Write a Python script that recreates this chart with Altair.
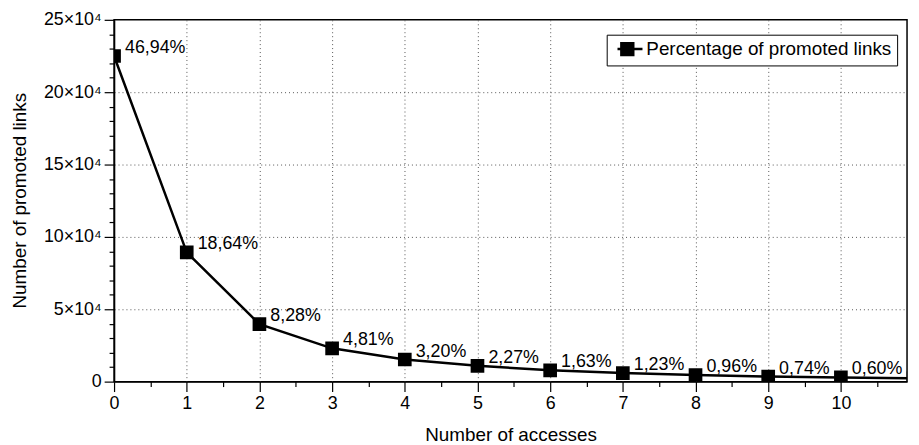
import altair as alt
import pandas as pd

accesses = [0, 1, 2, 3, 4, 5, 6, 7, 8, 9, 10, 11]
promoted = [225000, 89300, 39700, 23000, 15300, 10900, 7800, 5900, 4600, 3500, 2900, 2300]
percent_labels = ["46,94%", "18,64%", "8,28%", "4,81%", "3,20%", "2,27%",
                  "1,63%", "1,23%", "0,96%", "0,74%", "0,60%", ""]
series_name = "Percentage of promoted links"

df = pd.DataFrame({
    "x": accesses,
    "y": promoted,
    "label": percent_labels,
    "series": [series_name] * len(accesses),
})

FONT = "Liberation Sans"

x_ticks = [i * 0.5 for i in range(22)]
y_ticks = [i * 10000 for i in range(26)]

x_scale = alt.Scale(domain=[0, 10.91], nice=False, zero=False)
y_scale = alt.Scale(domain=[0, 250000], nice=False)

x_axis = alt.Axis(
    values=x_ticks,
    title="Number of accesses",
    labelExpr="datum.value % 1 === 0 ? format(datum.value, 'd') : ''",
    labelFlush=False,
    labelOverlap=False,
    tickSize={"condition": {"test": "datum.value % 1 === 0", "value": 10}, "value": 5},
    gridOpacity={"condition": {"test": "datum.value % 1 === 0 && datum.value > 0", "value": 1}, "value": 0},
    gridDash=[1, 3],
    gridColor="#555555",
    gridWidth=1,
    domainColor="black",
    domainWidth=1.5,
    tickColor="black",
    tickWidth=1.2,
    labelFont=FONT,
    labelFontSize=18,
    labelColor="black",
    labelPadding=3,
    titleFont=FONT,
    titleFontSize=19,
    titleFontWeight="normal",
    titleColor="black",
    titleBaseline="alphabetic",
    titleY=59,
)

y_axis = alt.Axis(
    values=y_ticks,
    title="Number of promoted links",
    labelExpr="datum.value === 0 ? '0' : (datum.value % 50000 === 0 ? format(datum.value / 10000, 'd') + '×10⁴' : '')",
    labelFlush=False,
    labelOverlap=False,
    tickSize={"condition": {"test": "datum.value % 50000 === 0", "value": 10}, "value": 5},
    gridOpacity={"condition": {"test": "datum.value % 50000 === 0 && datum.value > 0 && datum.value < 250000", "value": 1}, "value": 0},
    gridDash=[1, 3],
    gridColor="#555555",
    gridWidth=1,
    domainColor="black",
    domainWidth=1.5,
    tickColor="black",
    tickWidth=1.2,
    labelFont=FONT,
    labelFontSize=18,
    labelColor="black",
    labelPadding=3,
    titleFont=FONT,
    titleFontSize=19,
    titleFontWeight="normal",
    titleColor="black",
    titleAngle=270,
    titleAlign="center",
    titleBaseline="middle",
    titleX=-95,
    titleY=182,
)

x_enc = alt.X("x:Q", scale=x_scale, axis=x_axis)
y_enc = alt.Y("y:Q", scale=y_scale, axis=y_axis)

base = alt.Chart(df)

color = alt.Color(
    "series:N",
    scale=alt.Scale(range=["black"]),
    legend=alt.Legend(
        title=None,
        orient="none",
        legendX=497,
        legendY=15,
        strokeColor="black",
        fillColor="white",
        padding=5,
        labelFont=FONT,
        labelFontSize=19,
        labelColor="black",
        labelLimit=0,
        symbolType="M-0.6,0H3.6M0.05,-1H2.05V1H0.05Z",
        symbolSize=144,
        symbolStrokeWidth=2.5,
        symbolStrokeColor="black",
        symbolFillColor="black",
        labelOffset=16,
    ),
)

line = base.mark_line(color="black", strokeWidth=2.5, clip=True).encode(
    x=x_enc,
    y=y_enc,
    color=color,
)

points = base.mark_point(shape="square", filled=True, size=190, opacity=1,
                         color="black", clip=True).encode(
    x=x_enc,
    y=y_enc,
)

labels = base.transform_filter("datum.label != ''").mark_text(
    align="left", baseline="alphabetic", dx=11, dy=-3,
    font=FONT, fontSize=18, color="black", clip=True,
).encode(
    x=x_enc,
    y=y_enc,
    text="label:N",
)

chart = alt.layer(line, points, labels).properties(
    width=800,
    height=365,
    background="white",
    autosize=alt.AutoSizeParams(type="none"),
    padding={"left": 107, "top": 10, "right": 4, "bottom": 62},
).configure_view(
    stroke="black", strokeWidth=1.5
)

chart.save("out.html", embed_options={"renderer": "svg", "actions": False})
